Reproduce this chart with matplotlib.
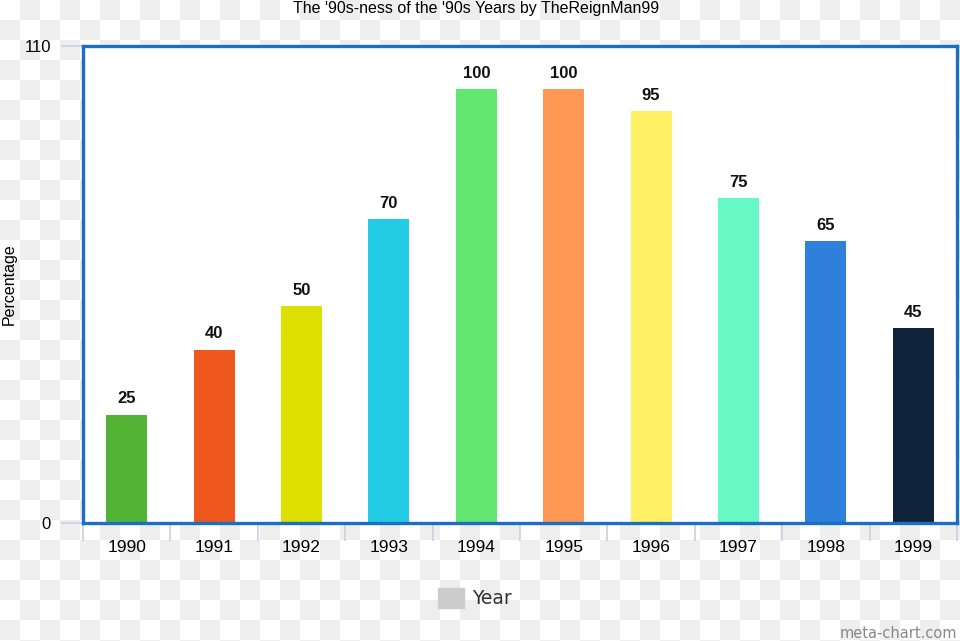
import matplotlib
matplotlib.use('Agg')
import matplotlib.pyplot as plt
import numpy as np

years = ['1990', '1991', '1992', '1993', '1994', '1995', '1996', '1997', '1998', '1999']
values = [25, 40, 50, 70, 100, 100, 95, 75, 65, 45]
colors = ['#52b335', '#ee581f', '#dde000', '#23cce4', '#63e672',
          '#ff9755', '#fff066', '#66f9c5', '#2f80db', '#0f233a']

plt.rcParams['font.family'] = ['Liberation Sans', 'DejaVu Sans']

W, H = 960, 641
fig = plt.figure(figsize=(W / 100, H / 100), dpi=100)

# transparent-background checkerboard
yy, xx = np.mgrid[0:H, 0:W]
chk = ((yy // 20 + xx // 20) % 2)
bg = np.ones((H, W, 3))
bg[chk == 1] = 0xee / 255
bgax = fig.add_axes([0, 0, 1, 1], zorder=-1)
bgax.imshow(bg, interpolation='nearest', aspect='auto')
bgax.axis('off')

ax = fig.add_axes([83 / W, (H - 523) / H, 874 / W, 477 / H], zorder=1)
ax.set_facecolor('white')

x = np.arange(len(years))
ax.bar(x, values, width=0.47, color=colors, zorder=2)
for xi, v in zip(x, values):
    ax.text(xi, v + 3.6, str(v), ha='center', va='center',
            fontsize=12, fontweight='bold', color='#111111')

ax.set_xlim(-0.5, len(years) - 0.5)
ax.set_ylim(0, 110)
ax.set_yticks([0, 110])
ax.tick_params(axis='y', length=16, color='#c5d3e3', width=1.2,
               labelsize=12, pad=7)

ax.set_xticks(np.arange(-0.5, len(years)), labels=[])
ax.set_xticks(x, labels=years, minor=True)
ax.tick_params(axis='x', which='major', length=13, color='#c5d3e3', width=1.2)
ax.tick_params(axis='x', which='minor', length=0, labelsize=12.5, pad=12)

for s in ax.spines.values():
    s.set_color('#1a6fc4')
    s.set_linewidth(2.4)

fig.text(476 / W, 1 - 8 / H, "The '90s-ness of the '90s Years by TheReignMan99",
         ha='center', va='center', fontsize=11.5)
fig.text(9 / W, 1 - 284 / H, 'Percentage', rotation=90,
         ha='center', va='center', fontsize=11.5)

# legend
fig.patches.append(plt.Rectangle((438 / W, 1 - 608 / H), 26 / W, 20 / H,
                                 transform=fig.transFigure, color='#cccccc'))
fig.text(472 / W, 1 - 599 / H, 'Year', ha='left', va='center',
         fontsize=13.5, color='#333333', family='DejaVu Sans')
fig.text(957 / W, 1 - 633 / H, 'meta-chart.com', ha='right', va='center',
         fontsize=10.5, color='#888888', family='DejaVu Sans')

fig.savefig('out.png', dpi=100)
